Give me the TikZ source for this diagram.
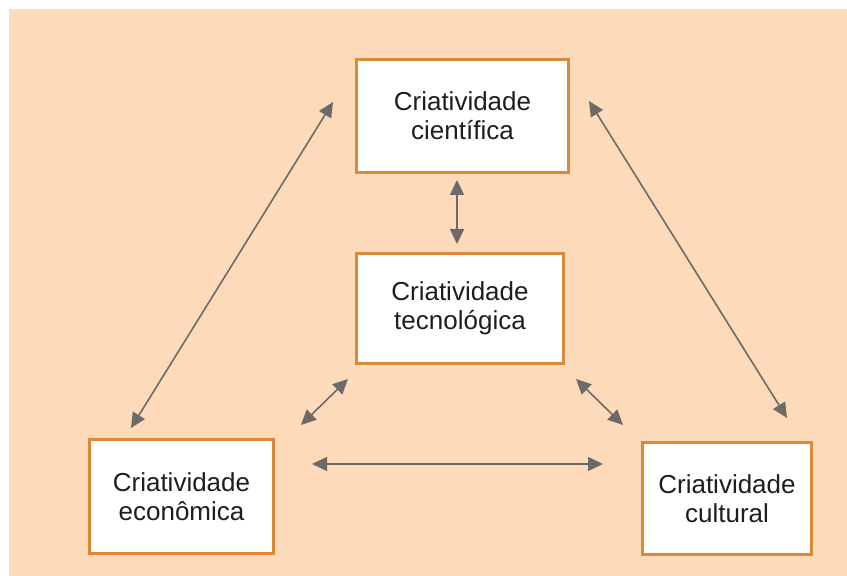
\documentclass[tikz,border=0pt]{standalone}
\usepackage{fontspec}
\setmainfont{Liberation Sans}
\usetikzlibrary{arrows.meta}
\definecolor{peach}{HTML}{FDDABA}
\definecolor{boxorange}{HTML}{DB8938}
\definecolor{arrgray}{HTML}{6E6A68}
\definecolor{txt}{HTML}{1E1E1E}
\tikzset{
  cbox/.style={draw=boxorange, line width=3pt, fill=white, inner sep=0pt,
    align=center, text=txt, font=\fontsize{26}{29}\selectfont},
  link/.style={draw=arrgray, line width=1.6pt,
    {Triangle[length=15pt,width=14pt]}-{Triangle[length=15pt,width=14pt]}}
}
\begin{document}
\begin{tikzpicture}[x=1pt,y=1pt]
\useasboundingbox (0,0) rectangle (847,576);
\fill[white] (0,0) rectangle (847,576);
\fill[peach] (9,0) rectangle (847,567);
\node[cbox, minimum width=212pt, minimum height=113pt] (sci) at (462.5,460) {Criatividade\\científica};
\node[cbox, minimum width=207pt, minimum height=110pt] (tec) at (460,267.5) {Criatividade\\tecnológica};
\node[cbox, minimum width=184pt, minimum height=114pt] (eco) at (181.5,79.5) {Criatividade\\econômica};
\node[cbox, minimum width=169pt, minimum height=112pt] (cul) at (727,77.5) {Criatividade\\cultural};
% connector end points
\coordinate (s1) at (333,474);
\coordinate (e1) at (131,148);
\coordinate (s2) at (589,475);
\coordinate (c2) at (787,158);
\coordinate (s3) at (457,396);
\coordinate (t3) at (457,332);
\coordinate (t4) at (348,197);
\coordinate (e4) at (301,151);
\coordinate (t5) at (576,197);
\coordinate (c5) at (623,151);
\coordinate (e6) at (312,112);
\coordinate (c6) at (603,112);
\draw[link] (s1) -- (e1);
\draw[link] (s2) -- (c2);
\draw[link] (s3) -- (t3);
\draw[link] (t4) -- (e4);
\draw[link] (t5) -- (c5);
\draw[link] (e6) -- (c6);
\end{tikzpicture}
\end{document}
